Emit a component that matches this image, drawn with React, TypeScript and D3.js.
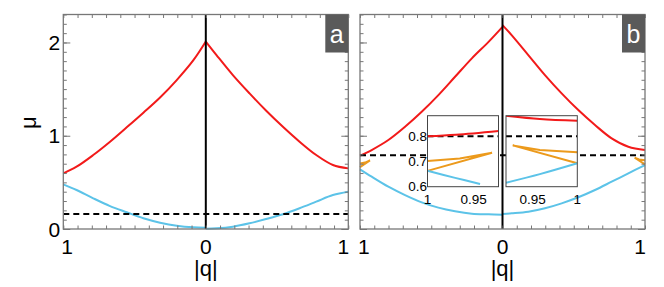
import React, { useEffect, useRef } from "react";
import * as d3 from "d3";

// panel a, left half (plotted at -|q|) and right half
const qALeft = [0, 0.087, 0.204, 0.321, 0.438, 0.555, 0.672, 0.79, 0.907, 1];
const redALeft = [2.01, 1.81, 1.597, 1.41, 1.247, 1.09, 0.936, 0.793, 0.668, 0.597];
const blueALeft = [0.014, 0.018, 0.035, 0.068, 0.115, 0.179, 0.246, 0.329, 0.418, 0.479];
const qARight = [0, 0.075, 0.19, 0.307, 0.424, 0.541, 0.658, 0.775, 0.892, 1];
const redARight = [2.01, 1.865, 1.65, 1.454, 1.268, 1.096, 0.936, 0.793, 0.686, 0.65];
const blueARight = [0.003, 0.007, 0.025, 0.061, 0.107, 0.158, 0.222, 0.293, 0.364, 0.4];
const dashA = 0.16;

// panel b
const qBLeft = [0, 0.098, 0.215, 0.333, 0.45, 0.567, 0.684, 0.801, 0.918, 1];
const redBLeft = [2.168, 2.007, 1.83, 1.632, 1.436, 1.257, 1.096, 0.954, 0.847, 0.786];
const blueBLeft = [0.153, 0.157, 0.164, 0.19, 0.229, 0.286, 0.364, 0.454, 0.561, 0.64];
const qBRight = [0, 0.064, 0.181, 0.298, 0.415, 0.532, 0.649, 0.766, 0.883, 1];
const redBRight = [2.186, 2.079, 1.865, 1.65, 1.454, 1.275, 1.115, 0.972, 0.882, 0.847];
const blueBRight = [0.161, 0.168, 0.185, 0.222, 0.275, 0.34, 0.418, 0.507, 0.597, 0.686];
const dashB = 0.79;

// orange wedges near |q| = 1 (panel b and insets)
const qOrangeL = [1, 0.965, 0.93, 1];
const orangeL = [0.702, 0.712, 0.735, 0.663];
const qOrangeR = [1, 0.958, 0.9275, 1];
const orangeR = [0.737, 0.746, 0.764, 0.693];

// insets
const qInsetRedL = [1, 0.969, 0.923];
const insetRedL = [0.8, 0.806, 0.821];
const qInsetBlueL = [1, 0.97, 0.943];
const insetBlueL = [0.663, 0.635, 0.611];
const qInsetRedR = [0.92, 0.958, 1];
const insetRedR = [0.882, 0.869, 0.862];
const qInsetBlueR = [0.92, 0.958, 1];
const insetBlueR = [0.616, 0.65, 0.693];
const insetDash = 0.8;
const insetYTicks = [0.6, 0.7, 0.8];
const insetXTicksL = [1, 0.95];
const insetXTicksR = [0.95, 1];

const xTickVals = [-1, 0, 1];
const xTickLabels = ["1", "0", "1"];
const yTickVals = [0, 1, 2];

const RED = "#f21a1a";
const BLUE = "#5cc3e8";
const ORANGE = "#ec9a1c";
const FONT = "'Liberation Sans', Arial, sans-serif";

const App = () => {
  const ref = useRef(null);

  useEffect(() => {
    const svg = d3.select(ref.current);
    svg.selectAll("*").remove();

    const top = 14.5;
    const bottom = 229;
    const y = d3.scaleLinear().domain([0, 2.3]).range([bottom, top]);

    const line = (xs, ys, sx, sy, sign) =>
      d3
        .line()
        .x((d) => sx(sign * d[0]))
        .y((d) => sy(d[1]))
        .curve(d3.curveCatmullRom.alpha(0.5))(d3.zip(xs, ys));

    const straight = (xs, ys, sx, sy, sign) =>
      d3
        .line()
        .x((d) => sx(sign * d[0]))
        .y((d) => sy(d[1]))(d3.zip(xs, ys));

    const drawPanel = (x0, x1, cfg) => {
      const x = d3.scaleLinear().domain([-1, 1]).range([x0, x1]);
      const g = svg.append("g");

      const curve = (xs, ys, sign, color) =>
        g
          .append("path")
          .attr("d", line(xs, ys, x, y, sign))
          .attr("fill", "none")
          .attr("stroke", color)
          .attr("stroke-width", 2);

      curve(cfg.qL, cfg.redL, -1, RED);
      curve(cfg.qR, cfg.redR, 1, RED);
      curve(cfg.qL, cfg.blueL, -1, BLUE);
      curve(cfg.qR, cfg.blueR, 1, BLUE);
      if (cfg.orange) {
        g.append("path")
          .attr("d", straight(qOrangeL, orangeL, x, y, -1))
          .attr("fill", "none")
          .attr("stroke", ORANGE)
          .attr("stroke-width", 2);
        g.append("path")
          .attr("d", straight(qOrangeR, orangeR, x, y, 1))
          .attr("fill", "none")
          .attr("stroke", ORANGE)
          .attr("stroke-width", 2);
      }

      g.append("line")
        .attr("x1", x0)
        .attr("x2", x1)
        .attr("y1", y(cfg.dash))
        .attr("y2", y(cfg.dash))
        .attr("stroke", "#000")
        .attr("stroke-width", 2)
        .attr("stroke-dasharray", "6,4");

      g.append("line")
        .attr("x1", x(0))
        .attr("x2", x(0))
        .attr("y1", top)
        .attr("y2", bottom)
        .attr("stroke", "#000")
        .attr("stroke-width", 2);

      // ticks on all four sides, pointing inward
      const minorY = d3.range(24).map((i) => i / 10);
      const minorX = d3.range(-10, 11).map((i) => i / 10);
      const axes = [
        [d3.axisRight(y).tickValues(minorY).tickSize(3.5), `translate(${x0},0)`],
        [d3.axisRight(y).tickValues(yTickVals).tickSize(7), `translate(${x0},0)`],
        [d3.axisLeft(y).tickValues(minorY).tickSize(3.5), `translate(${x1},0)`],
        [d3.axisLeft(y).tickValues(yTickVals).tickSize(7), `translate(${x1},0)`],
        [d3.axisBottom(x).tickValues(minorX).tickSize(3.5), `translate(0,${top})`],
        [d3.axisTop(x).tickValues(minorX).tickSize(3.5), `translate(0,${bottom})`],
      ];
      axes.forEach(([ax, tr]) => {
        const a = g.append("g").attr("transform", tr).call(ax.tickFormat(() => ""));
        a.select(".domain").remove();
        a.selectAll("line").attr("stroke", "#777").attr("stroke-width", 1);
      });

      if (cfg.insets) cfg.insets(g, x);

      g.append("rect")
        .attr("x", x0)
        .attr("y", top)
        .attr("width", x1 - x0)
        .attr("height", bottom - top)
        .attr("fill", "none")
        .attr("stroke", "#777")
        .attr("stroke-width", 1.3);

      // panel letter
      g.append("rect")
        .attr("x", x1 - 23)
        .attr("y", top)
        .attr("width", 23)
        .attr("height", 38)
        .attr("fill", "#5a5a5a");
      g.append("text")
        .attr("x", x1 - 11.5)
        .attr("y", top + 28)
        .attr("text-anchor", "middle")
        .attr("fill", "#fff")
        .style("font-family", FONT)
        .style("font-size", "25px")
        .text(cfg.letter);

      const anchors = ["start", "middle", "end"];
      const offsets = [-2, 0, 1];
      xTickVals.forEach((v, i) => {
        g.append("text")
          .attr("x", x(v) + offsets[i])
          .attr("y", 254)
          .attr("text-anchor", anchors[i])
          .style("font-family", FONT)
          .style("font-size", "21px")
          .text(xTickLabels[i]);
      });
      g.append("text")
        .attr("x", x(0))
        .attr("y", 276)
        .attr("text-anchor", "middle")
        .style("font-family", FONT)
        .style("font-size", "22px")
        .text("|q|");

      if (cfg.yLabels) {
        yTickVals.forEach((v) => {
          g.append("text")
            .attr("x", x0 - 3)
            .attr("y", y(v))
            .attr("dy", "0.36em")
            .attr("text-anchor", "end")
            .style("font-family", FONT)
            .style("font-size", "21px")
            .text(String(v));
        });
        g.append("text")
          .attr("transform", `translate(36,${y(1.14)}) rotate(-90)`)
          .attr("text-anchor", "middle")
          .style("font-family", FONT)
          .style("font-size", "22px")
          .text("μ");
      }
    };

    const drawInset = (g, ix0, ix1, xDomain, parts, id) => {
      const iTop = 115.7;
      const iBottom = 186.7;
      const ix = d3.scaleLinear().domain(xDomain).range([ix0, ix1]);
      const iy = d3.scaleLinear().domain([0.6, 0.882]).range([iBottom, iTop]);

      g.append("rect")
        .attr("x", ix0)
        .attr("y", iTop)
        .attr("width", ix1 - ix0)
        .attr("height", iBottom - iTop)
        .attr("fill", "#fff");

      g.append("clipPath")
        .attr("id", id)
        .append("rect")
        .attr("x", ix0)
        .attr("y", iTop)
        .attr("width", ix1 - ix0)
        .attr("height", iBottom - iTop);
      const c = g.append("g").attr("clip-path", `url(#${id})`);

      c.append("line")
        .attr("x1", ix0)
        .attr("x2", ix1)
        .attr("y1", iy(insetDash))
        .attr("y2", iy(insetDash))
        .attr("stroke", "#000")
        .attr("stroke-width", 2)
        .attr("stroke-dasharray", "6,4");

      parts.forEach(([xs, ys, color, smooth]) => {
        c.append("path")
          .attr("d", smooth ? line(xs, ys, ix, iy, 1) : straight(xs, ys, ix, iy, 1))
          .attr("fill", "none")
          .attr("stroke", color)
          .attr("stroke-width", 2);
      });

      g.append("rect")
        .attr("x", ix0)
        .attr("y", iTop)
        .attr("width", ix1 - ix0)
        .attr("height", iBottom - iTop)
        .attr("fill", "none")
        .attr("stroke", "#444")
        .attr("stroke-width", 1);

      return { ix, iy };
    };

    drawPanel(63.3, 348.3, {
      qL: qALeft,
      redL: redALeft,
      blueL: blueALeft,
      qR: qARight,
      redR: redARight,
      blueR: blueARight,
      dash: dashA,
      letter: "a",
      yLabels: true,
    });

    drawPanel(360, 645, {
      qL: qBLeft,
      redL: redBLeft,
      blueL: blueBLeft,
      qR: qBRight,
      redR: redBRight,
      blueR: blueBRight,
      dash: dashB,
      letter: "b",
      orange: true,
      insets: (g) => {
        const L = drawInset(
          g,
          427.5,
          498.5,
          [1, 0.923],
          [
            [qInsetRedL, insetRedL, RED, true],
            [qOrangeL, orangeL, ORANGE, false],
            [qInsetBlueL, insetBlueL, BLUE, true],
          ],
          "clipL"
        );
        const R = drawInset(
          g,
          506,
          577.3,
          [0.92, 1],
          [
            [qInsetRedR, insetRedR, RED, true],
            [qOrangeR, orangeR, ORANGE, false],
            [qInsetBlueR, insetBlueR, BLUE, true],
          ],
          "clipR"
        );
        insetYTicks.forEach((v) => {
          g.append("text")
            .attr("x", 427)
            .attr("y", L.iy(v))
            .attr("dy", "0.34em")
            .attr("text-anchor", "end")
            .style("font-family", FONT)
            .style("font-size", "13.5px")
            .text(String(v));
        });
        [
          [insetXTicksL, L.ix],
          [insetXTicksR, R.ix],
        ].forEach(([vals, sx]) => {
          vals.forEach((v) => {
            g.append("text")
              .attr("x", sx(v))
              .attr("y", 203.5)
              .attr("text-anchor", "middle")
              .style("font-family", FONT)
              .style("font-size", "13.5px")
              .text(String(v));
          });
        });
      },
    });
  }, []);

  return (
    <svg
      ref={ref}
      width={664}
      height={287}
      style={{ position: "absolute", left: 0, top: 0, background: "#fff" }}
    ></svg>
  );
};

export default App;
